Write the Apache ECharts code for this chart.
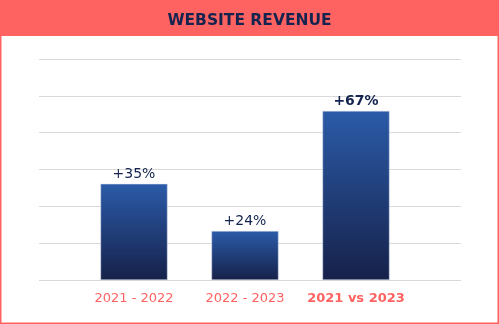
<!DOCTYPE html>
<html><head><meta charset="utf-8">
<script src="https://cdn.jsdelivr.net/npm/echarts@6/dist/echarts.min.js"></script>
<style>html,body{margin:0;padding:0;background:#fff}#c{width:499px;height:324px}</style>
</head><body><div id="c"></div>
<script>
const categories = ['2021 - 2022', '2022 - 2023', '2021 vs 2023'];
const values = [26.1, 13.3, 45.9];
const labels = ['+35%', '+24%', '+67%'];
const titleText = 'WEBSITE REVENUE';

const chart = echarts.init(document.getElementById('c'), null, {renderer: 'canvas'});
const F = 'DejaVu Sans, Verdana, sans-serif';
chart.setOption({
  animation: false,
  backgroundColor: '#fff',
  graphic: [
    {type: 'rect', shape: {x: 0, y: 0, width: 499, height: 36}, style: {fill: '#FF6361'}, z: 0},
    {type: 'rect', shape: {x: 0.75, y: 0.75, width: 497.5, height: 322.5}, style: {fill: 'none', stroke: '#FF6361', lineWidth: 1.5}, z: 10}
  ],
  title: {text: titleText, left: 'center', top: 8,
    textStyle: {fontFamily: F, fontSize: 15.5, fontWeight: 'bold', color: '#14244F'}},
  grid: [
    {left: 39, right: 38, top: 59, bottom: 44},
    {left: 78.5, right: 87.5, top: 59, bottom: 44}
  ],
  xAxis: [
    {type: 'category', gridIndex: 0, data: categories, show: false},
    {type: 'category', gridIndex: 1, data: categories,
      axisLine: {show: false}, axisTick: {show: false},
      axisLabel: {interval: 0, fontFamily: F, fontSize: 13, color: '#FF6361', margin: 12,
        formatter: (v, i) => i === 2 ? '{b|' + v + '}' : v,
        rich: {b: {fontFamily: F, fontSize: 13, fontWeight: 'bold', color: '#FF6361'}}}}
  ],
  yAxis: [
    {type: 'value', gridIndex: 0, min: 0, max: 60, interval: 10,
      axisLabel: {show: false}, axisLine: {show: false}, axisTick: {show: false},
      splitLine: {lineStyle: {color: '#D9D9D9', width: 1.2}}},
    {type: 'value', gridIndex: 1, min: 0, max: 60, interval: 10,
      axisLabel: {show: false}, axisLine: {show: false}, axisTick: {show: false},
      splitLine: {show: false}}
  ],
  series: [{type: 'bar', xAxisIndex: 1, yAxisIndex: 1, barWidth: 67,
    data: values.map((v, i) => ({value: v, label: {fontWeight: i === 2 ? 'bold' : 'normal'}})),
    itemStyle: {color: new echarts.graphic.LinearGradient(0, 0, 0, 1, [
      {offset: 0, color: '#2B5BA8'}, {offset: 1, color: '#16214A'}]),
      borderColor: '#D0D8EA', borderWidth: 0.5},
    label: {show: true, position: 'top', distance: 3, fontFamily: F, fontSize: 14, color: '#14244F',
      formatter: p => labels[p.dataIndex]}
  }]
});
</script></body></html>
